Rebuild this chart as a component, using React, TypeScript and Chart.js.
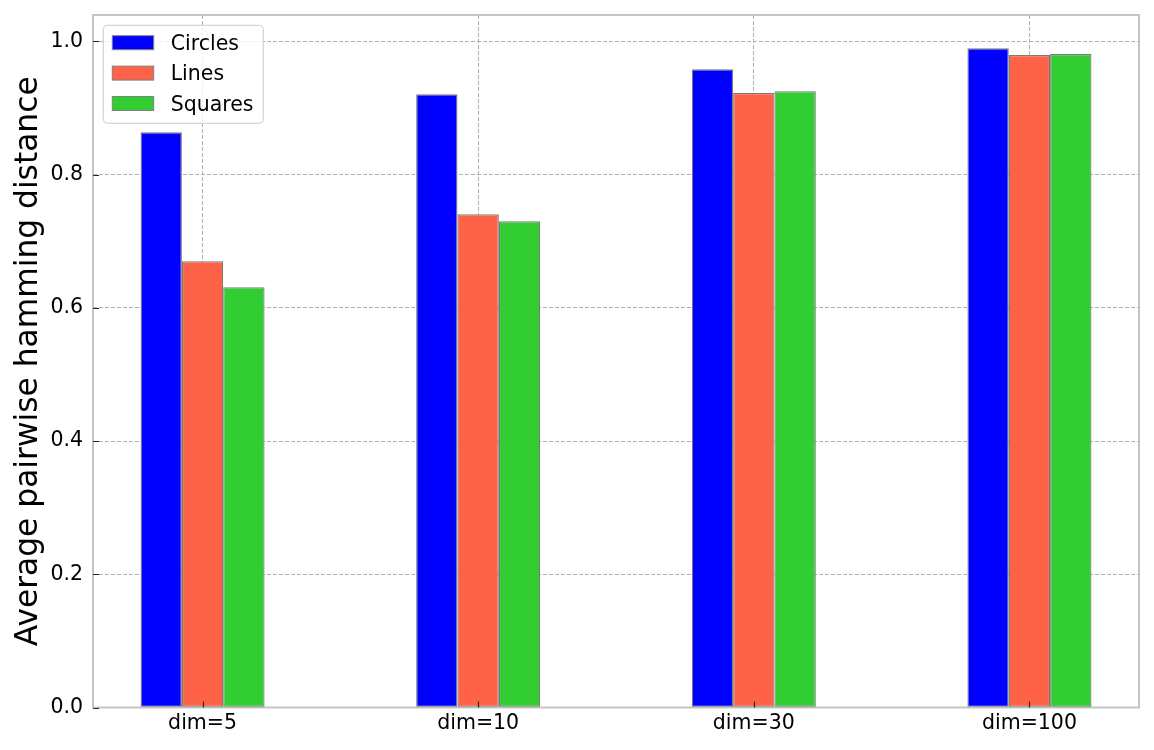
import React, { useEffect, useRef } from 'react';
import { Chart, registerables } from 'chart.js';

Chart.register(...registerables);

const categories = ['dim=5', 'dim=10', 'dim=30', 'dim=100'];
const seriesNames = ['Circles', 'Lines', 'Squares'];
const circles = [0.8634, 0.9204, 0.958, 0.9895];
const lines = [0.6698, 0.7403, 0.9224, 0.9794];
const squares = [0.6307, 0.7298, 0.925, 0.981];
const seriesColors = ['#0000ff', '#ff6347', '#32cd32'];
const yTicks = [0, 0.2, 0.4, 0.6, 0.8, 1.0];
const yTitle = 'Average pairwise hamming distance';

const FONT = '"DejaVu Sans", sans-serif';
const TICK_SIZE = 20.5;

const framePlugin = {
  id: 'frame',
  afterDraw(chart: any) {
    const { ctx, chartArea: a, scales } = chart;
    ctx.save();
    // spines
    ctx.strokeStyle = '#c4c4c4';
    ctx.lineWidth = 2;
    ctx.strokeRect(a.left, a.top, a.right - a.left, a.bottom - a.top);
    // inward tick marks
    ctx.strokeStyle = '#262626';
    ctx.lineWidth = 1.2;
    ctx.beginPath();
    scales.y.ticks.forEach((t: any) => {
      const y = Math.round(scales.y.getPixelForValue(t.value)) + 0.5;
      ctx.moveTo(a.left, y);
      ctx.lineTo(a.left + 6, y);
    });
    scales.x.ticks.forEach((t: any) => {
      const x = Math.round(scales.x.getPixelForValue(t.value)) + 0.5;
      ctx.moveTo(x, a.bottom);
      ctx.lineTo(x, a.bottom - 6);
    });
    ctx.stroke();
    // legend
    const x0 = a.left + 10.3;
    const y0 = a.top + 10.3;
    const w = 160;
    const h = 98;
    const r = 4;
    ctx.beginPath();
    ctx.moveTo(x0 + r, y0);
    ctx.lineTo(x0 + w - r, y0);
    ctx.arcTo(x0 + w, y0, x0 + w, y0 + r, r);
    ctx.lineTo(x0 + w, y0 + h - r);
    ctx.arcTo(x0 + w, y0 + h, x0 + w - r, y0 + h, r);
    ctx.lineTo(x0 + r, y0 + h);
    ctx.arcTo(x0, y0 + h, x0, y0 + h - r, r);
    ctx.lineTo(x0, y0 + r);
    ctx.arcTo(x0, y0, x0 + r, y0, r);
    ctx.closePath();
    ctx.fillStyle = 'rgba(255,255,255,0.8)';
    ctx.fill();
    ctx.strokeStyle = '#cccccc';
    ctx.lineWidth = 1;
    ctx.stroke();
    ctx.font = TICK_SIZE + 'px ' + FONT;
    ctx.textBaseline = 'alphabetic';
    ctx.textAlign = 'left';
    chart.data.datasets.forEach((ds: any, i: number) => {
      const cy = y0 + 17.4 + i * 30.4;
      ctx.fillStyle = ds.backgroundColor;
      ctx.fillRect(x0 + 9, cy - 7, 41.4, 14);
      ctx.strokeStyle = '#808080';
      ctx.lineWidth = 1;
      ctx.strokeRect(x0 + 9, cy - 7, 41.4, 14);
      ctx.fillStyle = '#000000';
      ctx.fillText(ds.label, x0 + 67.4, cy + 7);
    });
    ctx.restore();
  },
};

export default function App() {
  const ref = useRef<HTMLCanvasElement | null>(null);

  useEffect(() => {
    const canvas = ref.current;
    if (!canvas) return;
    const seriesValues = [circles, lines, squares];
    const chart = new Chart(canvas, {
      type: 'bar',
      data: {
        datasets: seriesNames.map((name, s) => ({
          label: name,
          data: categories.map((_, i) => ({ x: i, y: seriesValues[s][i] })),
          backgroundColor: seriesColors[s],
          borderColor: '#7a7a7a',
          borderWidth: 1.2,
          borderSkipped: false,
          categoryPercentage: 0.45,
          barPercentage: 1.0,
        })),
      },
      options: {
        responsive: false,
        animation: false,
        events: [],
        layout: { padding: { left: 0, top: 15, right: 15, bottom: 0 } },
        plugins: {
          legend: { display: false },
          tooltip: { enabled: false },
        },
        scales: {
          x: {
            type: 'linear',
            min: -0.3975,
            max: 3.3975,
            offset: false,
            z: 1,
            afterBuildTicks: (scale: any) => {
              scale.ticks = categories.map((_, i) => ({ value: i }));
            },
            afterFit: (scale: any) => {
              scale.height = 42.5;
              scale.paddingLeft = 0;
              scale.paddingRight = 0;
              scale.paddingTop = 0;
              scale.paddingBottom = 0;
            },
            grid: {
              color: '#b0b0b0',
              lineWidth: 1,
              drawTicks: false,
              offset: false,
            },
            border: { display: false, dash: [4, 2] },
            ticks: {
              padding: 4,
              color: '#000000',
              font: { family: FONT, size: TICK_SIZE },
              maxRotation: 0,
              autoSkip: false,
              callback: (v: any) => categories[Math.round(Number(v))] ?? '',
            },
          },
          y: {
            type: 'linear',
            min: 0,
            max: 1.0395,
            z: 1,
            afterBuildTicks: (scale: any) => {
              scale.ticks = yTicks.map((v) => ({ value: v }));
            },
            afterFit: (scale: any) => {
              scale.width = 93;
              scale.paddingLeft = 0;
              scale.paddingRight = 0;
              scale.paddingTop = 0;
              scale.paddingBottom = 0;
            },
            grid: {
              color: '#b0b0b0',
              lineWidth: 1,
              drawTicks: false,
            },
            border: { display: false, dash: [4, 2] },
            ticks: {
              padding: 10,
              color: '#000000',
              font: { family: FONT, size: TICK_SIZE },
              callback: (v: any) => Number(v).toFixed(1),
            },
            title: {
              display: true,
              text: yTitle,
              color: '#000000',
              font: { family: FONT, size: 31.3, lineHeight: 1.2 },
              padding: { top: 10, bottom: 0 },
            },
          },
        },
      },
      plugins: [framePlugin],
    } as any);
    return () => chart.destroy();
  }, []);

  return (
    <canvas
      ref={ref}
      width={1154}
      height={750}
      style={{ position: 'absolute', left: 0, top: 0, width: 1154, height: 750 }}
    />
  );
}
